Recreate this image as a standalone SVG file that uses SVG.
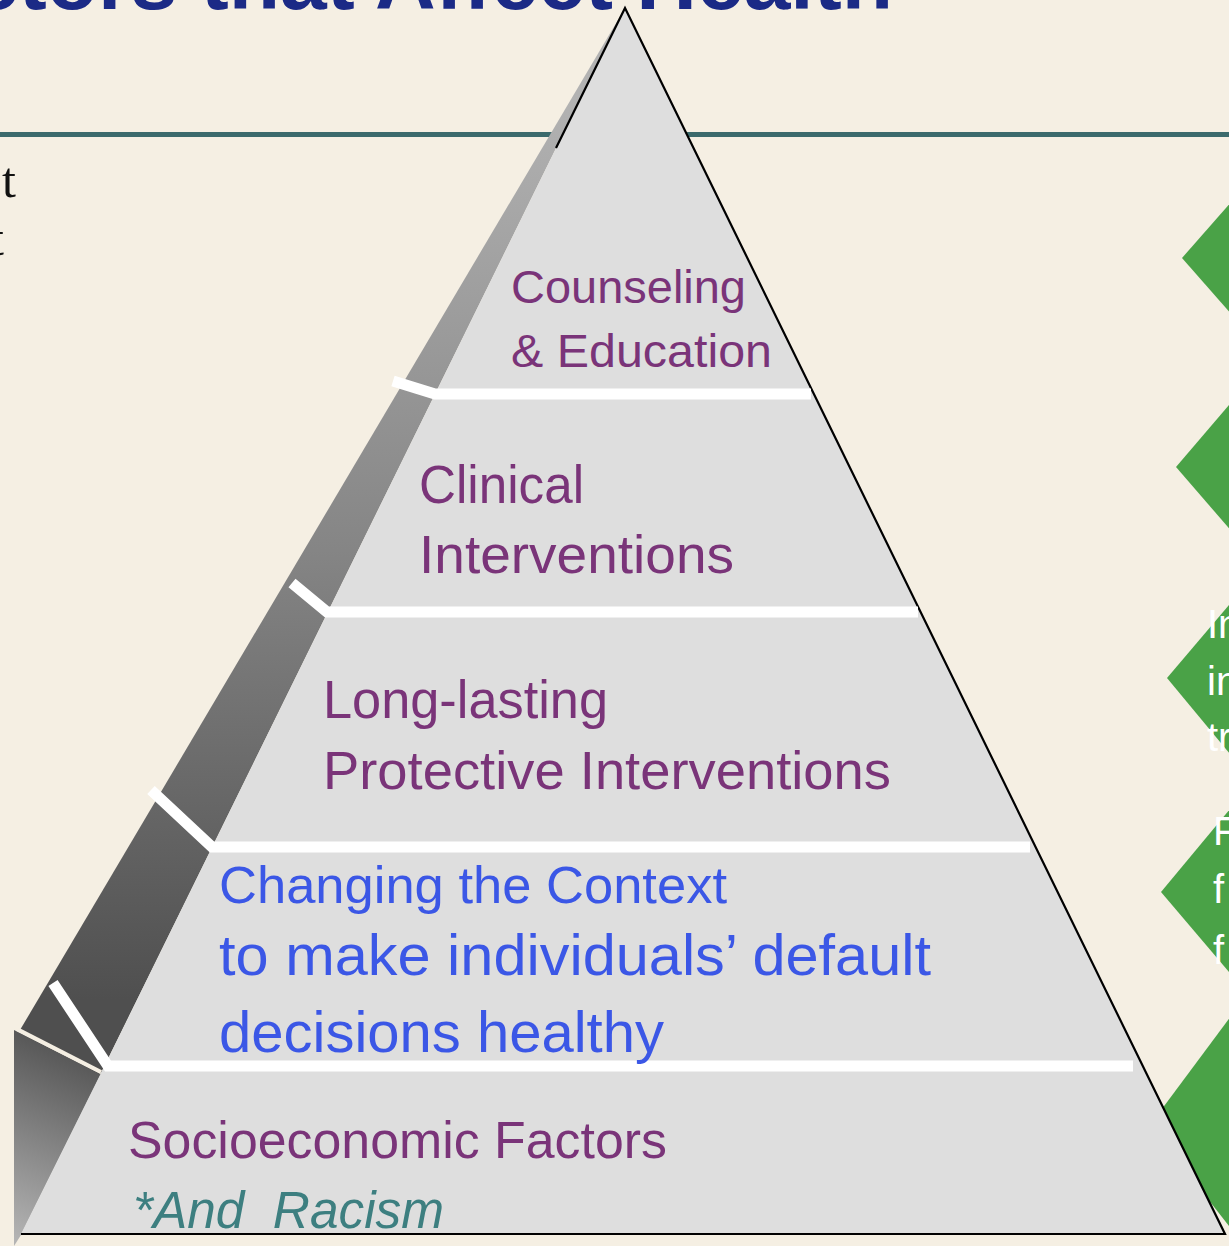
<svg xmlns="http://www.w3.org/2000/svg" width="1229" height="1246" viewBox="0 0 1229 1246">
  <defs>
    <linearGradient id="sideGrad" gradientUnits="userSpaceOnUse" x1="0" y1="100" x2="0" y2="1000">
      <stop offset="0" stop-color="#b2b2b2"/>
      <stop offset="0.5" stop-color="#858585"/>
      <stop offset="1" stop-color="#4f4f4f"/>
    </linearGradient>
    <linearGradient id="baseGrad" gradientUnits="userSpaceOnUse" x1="95" y1="1060" x2="14" y2="1240">
      <stop offset="0" stop-color="#555555"/>
      <stop offset="1" stop-color="#b4b4b4"/>
    </linearGradient>
    <style>
      .tier { font-family: "Liberation Sans", Arial, sans-serif; fill: #7a3479; }
      .blue { font-family: "Liberation Sans", Arial, sans-serif; fill: #3b57e6; }
      .teal { font-family: "Liberation Sans", Arial, sans-serif; fill: #3d7f80; font-style: italic; }
      .chev { fill: #4aa247; }
      .chevtxt { font-family: "Liberation Sans", Arial, sans-serif; fill: #ffffff; font-size: 40px; }
      .sep { stroke: #ffffff; stroke-width: 11; fill: none; stroke-linejoin: miter; }
    </style>
  </defs>

  <rect id="background" x="0" y="0" width="1229" height="1246" fill="#f5efe3"/>

  <g id="title">
    <text x="893" y="9" text-anchor="end" font-family="'Liberation Sans', Arial, sans-serif" font-weight="bold" font-size="84" fill="#1b2a86">Factors that Affect Health</text>
  </g>

  <rect id="rule" x="0" y="132" width="1229" height="5" fill="#3b6a6c"/>

  <g id="side-text" font-family="'Liberation Serif', 'Times New Roman', serif" font-size="50" fill="#111111">
    <text x="2" y="197">t</text>
    <text x="-10" y="255">t</text>
  </g>

  <g id="chevrons">
    <polygon class="chev" points="1240,192 1182,258 1240,324"/>
    <polygon class="chev" points="1240,392 1176,467 1240,541"/>
    <g id="chevron3">
      <polygon class="chev" points="1240,592 1167,678 1240,766"/>
      <text class="chevtxt" x="1207" y="638">In</text>
      <text class="chevtxt" x="1207" y="695">in</text>
      <text class="chevtxt" x="1207" y="751">tr</text>
    </g>
    <g id="chevron4">
      <polygon class="chev" points="1240,797 1161,892 1240,985"/>
      <text class="chevtxt" x="1213" y="845">F</text>
      <text class="chevtxt" x="1213" y="903">f</text>
      <text class="chevtxt" x="1213" y="964">f</text>
    </g>
    <polygon class="chev" points="1240,1004 1150,1125 1240,1240"/>
  </g>

  <g id="pyramid-side">
    <polygon points="625,8 20,1030 101,1073" fill="url(#sideGrad)"/>
    <polygon points="14,1030 101,1074 21,1235 14,1246" fill="url(#baseGrad)"/>
    <line x1="17" y1="1029" x2="101" y2="1072" stroke="#f5efe3" stroke-width="4"/>
  </g>

  <g id="pyramid-face">
    <polygon points="625,8 1225,1234 21,1234 101,1073" fill="#dedede"/>
    <polyline points="556,148 625,8 1225,1234 21,1234" fill="none" stroke="#000000" stroke-width="2.2"/>
  </g>

  <g id="connectors">
    <polyline class="sep" points="393,381 435,394 811,394"/>
    <polyline class="sep" points="292,583 327,612 918,612"/>
    <polyline class="sep" points="151,790 212,847 1030,847"/>
    <polyline class="sep" points="53,983 108,1066 1133,1066"/>
  </g>

  <g id="tier-counseling" class="tier" font-size="47">
    <text x="511" y="303" textLength="235" lengthAdjust="spacingAndGlyphs">Counseling</text>
    <text x="511" y="367" textLength="261" lengthAdjust="spacingAndGlyphs">&amp; Education</text>
  </g>

  <g id="tier-clinical" class="tier" font-size="53">
    <text x="419" y="503" textLength="165" lengthAdjust="spacingAndGlyphs">Clinical</text>
    <text x="419" y="573" textLength="315" lengthAdjust="spacingAndGlyphs">Interventions</text>
  </g>

  <g id="tier-protective" class="tier" font-size="53">
    <text x="323" y="718" textLength="285" lengthAdjust="spacingAndGlyphs">Long-lasting</text>
    <text x="323" y="789" textLength="568" lengthAdjust="spacingAndGlyphs">Protective Interventions</text>
  </g>

  <g id="tier-context" class="blue">
    <text x="219" y="903" font-size="52" textLength="508" lengthAdjust="spacingAndGlyphs">Changing the Context</text>
    <text x="219" y="975" font-size="58" textLength="712" lengthAdjust="spacingAndGlyphs">to make individuals’ default</text>
    <text x="219" y="1052" font-size="58" textLength="445" lengthAdjust="spacingAndGlyphs">decisions healthy</text>
  </g>

  <g id="tier-socioeconomic">
    <text class="tier" x="128" y="1158" font-size="52" textLength="539" lengthAdjust="spacingAndGlyphs">Socioeconomic Factors</text>
    <text class="teal" x="133" y="1228" font-size="51" textLength="311" lengthAdjust="spacingAndGlyphs" xml:space="preserve">*And  Racism</text>
  </g>
</svg>
